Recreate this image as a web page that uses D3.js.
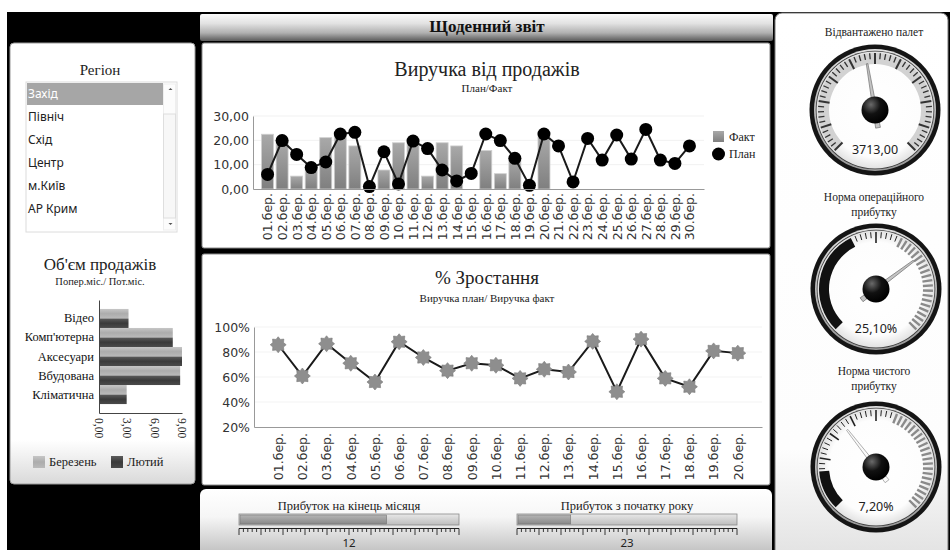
<!DOCTYPE html>
<html><head><meta charset="utf-8">
<script src="https://cdn.jsdelivr.net/npm/d3@7"></script>
<style>body{margin:0;background:#fff}svg{display:block}</style>
</head><body><svg id="c" width="950" height="550"></svg>
<script>
// ---------- DATA ----------
const regions = ["Захід","Північ","Схід","Центр","м.Київ","АР Крим"];
const salesDays = ["01.бер.","02.бер.","03.бер.","04.бер.","05.бер.","06.бер.","07.бер.","08.бер.","09.бер.","10.бер.","11.бер.","12.бер.","13.бер.","14.бер.","15.бер.","16.бер.","17.бер.","18.бер.","19.бер.","20.бер.","21.бер.","22.бер.","23.бер.","24.бер.","25.бер.","26.бер.","27.бер.","28.бер.","29.бер.","30.бер."];
const salesFact = [22.5,19.9,5.3,9.0,21.1,22.0,17.7,null,7.8,19.0,19.5,5.3,19.0,17.7,null,15.8,6.3,12.6,null,21.5,null,null,null,null,null,null,null,null,null,null];
const salesPlan = [6.0,19.9,14.2,8.8,11.1,22.6,23.3,1.0,15.3,2.1,19.7,16.6,7.8,3.3,6.4,22.6,19.9,12.6,1.5,22.6,17.7,2.9,20.8,11.9,22.2,12.3,24.5,11.9,10.5,17.7];
const salesTicks = [0,10,20,30];
const growthDays = salesDays.slice(0,20);
const growthValues = [85.8,60.8,86.6,71.0,56.0,88.2,75.6,65.1,71.0,69.4,58.9,66.2,64.0,88.5,48.2,90.3,58.9,52.2,80.9,79.1];
const growthTicks = [20,40,60,80,100];
const volumeCats = ["Відео","Комп'ютерна","Аксесуари","Вбудована","Кліматична"];
const volumeMarch = [3.2,8.0,9.0,8.8,3.0];
const volumeFeb = [3.2,8.0,9.0,8.8,3.0];
const volumeTicks = [0,3,6,9];
const volumeSeries = ["Березень","Лютий"];
const gaugeTitles = [["Відвантажено палет"],["Норма операційного","прибутку"],["Норма чистого","прибутку"]];
const gaugeValues = [3713, 25.1, 7.2];
const gaugeLabels = ["3713,00","25,10%","7,20%"];
const gaugeMax = [8000, 36, 20];
const gaugeBlackEnd = [0, 14.5, 3.0];
const gaugeGrayStart = [null, 21.3, 11.5];
const sliderTitles = ["Прибуток на кінець місяця","Прибуток з початку року"];
const sliderValues = [12, 23];
const sliderMax = [18, 96];

// ---------- HELPERS ----------
const svg = d3.select('#c');
const defs = svg.append('defs');
function lg(id, stops, x2=0, y2=1){
  const g = defs.append('linearGradient').attr('id',id).attr('x1',0).attr('y1',0).attr('x2',x2).attr('y2',y2);
  stops.forEach(([o,c])=>g.append('stop').attr('offset',o).attr('stop-color',c));
}
function rg(id, stops, cx='50%', cy='50%', r='50%'){
  const g = defs.append('radialGradient').attr('id',id).attr('cx',cx).attr('cy',cy).attr('r',r);
  stops.forEach(([o,c])=>g.append('stop').attr('offset',o).attr('stop-color',c));
}
lg('hdr',[[0,'#fbfbfb'],[0.35,'#e2e2e2'],[0.7,'#b0b0b0'],[1,'#5a5a5a']]);
lg('leftBg',[[0,'#ffffff'],[0.9,'#ffffff'],[1,'#d9d9d9']]);
lg('rightBg',[[0,'#ffffff'],[0.8,'#fdfdfd'],[1,'#e2e2e2']]);
lg('botBg',[[0,'#ffffff'],[0.4,'#f6f6f6'],[1,'#b8b8b8']]);
lg('factBar',[[0,'#a9a9a9'],[1,'#7f7f7f']]);
lg('lightBar',[[0,'#c6c6c6'],[0.5,'#acacac'],[1,'#bababa']]);
lg('darkBar',[[0,'#5c5c5c'],[0.5,'#3a3a3a'],[1,'#4a4a4a']]);
lg('track',[[0,'#e8e8e8'],[1,'#bdbdbd']]);
lg('trackFill',[[0,'#b5b5b5'],[1,'#888']]);
lg('ring',[[0,'#e0e0e0'],[1,'#9a9a9a']]);
rg('face',[[0,'#ffffff'],[0.8,'#fdfdfd'],[1,'#e2e2e2']]);
rg('hub',[[0,'#6a6a6a'],[0.5,'#111'],[1,'#000']],'35%','30%','70%');

const serif = "'Liberation Serif', 'DejaVu Serif', serif";
const sans = "'DejaVu Sans', sans-serif";
const ui = "'Noto Sans', 'Open Sans', sans-serif";
const fmt2 = d3.formatLocale({decimal:",",thousands:" ",grouping:[3],currency:["",""]}).format(".2f");

// ---------- BACKGROUND ----------
svg.append('rect').attr('x',0).attr('y',0).attr('width',950).attr('height',550).attr('fill','#fff');
svg.append('rect').attr('x',7).attr('y',12).attr('width',943).attr('height',538).attr('fill','#000');

// header
svg.append('rect').attr('x',200).attr('y',14).attr('width',573).attr('height',27).attr('rx',2).attr('fill','url(#hdr)');
svg.append('text').attr('x',487).attr('y',32).attr('text-anchor','middle').attr('font-family',serif)
  .attr('font-size',17).attr('font-weight','bold').attr('fill','#111').text('Щоденний звіт');

// panels
svg.append('rect').attr('x',10).attr('y',43).attr('width',185).attr('height',441).attr('rx',4).attr('fill','url(#leftBg)').attr('stroke','#9a9a9a');
svg.append('rect').attr('x',202).attr('y',43).attr('width',568).attr('height',205).attr('rx',2).attr('fill','#fff').attr('stroke','#8a8a8a');
svg.append('rect').attr('x',202).attr('y',254).attr('width',568).attr('height',231).attr('rx',2).attr('fill','#fff').attr('stroke','#8a8a8a');
svg.append('rect').attr('x',200).attr('y',489).attr('width',572).attr('height',70).attr('rx',6).attr('fill','url(#botBg)');
svg.append('rect').attr('x',775).attr('y',13).attr('width',173).attr('height',545).attr('rx',7).attr('fill','url(#rightBg)').attr('stroke','#777');

// ---------- REGION LISTBOX ----------
svg.append('text').attr('x',100).attr('y',75).attr('text-anchor','middle').attr('font-family',serif).attr('font-size',15).attr('fill','#222').text('Регіон');
svg.append('rect').attr('x',26).attr('y',82).attr('width',151).attr('height',150).attr('fill','#fff').attr('stroke','#dcdcdc');
svg.append('rect').attr('x',163.5).attr('y',84).attr('width',12).attr('height',146).attr('fill','#fcfcfc').attr('stroke','#eee');
svg.append('rect').attr('x',163.5).attr('y',114).attr('width',12).attr('height',104).attr('fill','#f7f7f7').attr('stroke','#dedede');
svg.append('path').attr('d','M168.5,90 l2,-2 l2,2 z').attr('fill','#555');
svg.append('path').attr('d','M168.5,223 l2,2 l2,-2 z').attr('fill','#555');
const yList = d3.scaleBand().domain(regions).range([83,220]);
svg.append('rect').attr('x',27).attr('y',83).attr('width',136).attr('height',22).attr('fill','#a6a6a6');
svg.append('g').selectAll('text').data(regions).join('text')
  .attr('x',28).attr('y',d=>yList(d)+yList.bandwidth()/2+4)
  .attr('font-family',ui).attr('font-size',12).attr('fill',(d,i)=>i===0?'#fff':'#222').text(d=>d);

// ---------- VOLUME BAR CHART ----------
svg.append('text').attr('x',100).attr('y',270).attr('text-anchor','middle').attr('font-family',serif).attr('font-size',17).attr('fill','#222').text("Об'єм продажів");
svg.append('text').attr('x',100).attr('y',285).attr('text-anchor','middle').attr('font-family',serif).attr('font-size',10.5).attr('fill','#222').text('Попер.міс./ Пот.міс.');
const yB = d3.scaleBand().domain(volumeCats).range([300,413]).paddingInner(0).paddingOuter(0.47);
const xB = d3.scaleLinear().domain([0,9]).range([99,182]);
const gB = svg.append('g');
gB.selectAll('rect.l').data(volumeCats).join('rect').attr('class','l')
  .attr('x',xB(0)).attr('y',d=>yB(d)).attr('height',yB.bandwidth()/2)
  .attr('width',(d,i)=>xB(volumeMarch[i])-xB(0)).attr('fill','url(#lightBar)');
gB.selectAll('rect.d').data(volumeCats).join('rect').attr('class','d')
  .attr('x',xB(0)).attr('y',d=>yB(d)+yB.bandwidth()/2).attr('height',yB.bandwidth()/2)
  .attr('width',(d,i)=>xB(volumeFeb[i])-xB(0)).attr('fill','url(#darkBar)');
const axB = svg.append('g').attr('transform','translate(99,0)').call(d3.axisLeft(yB).tickSize(0).tickPadding(5));
axB.select('.domain').attr('stroke','#444');
axB.selectAll('text').attr('font-family',serif).attr('font-size',12.5).attr('fill','#111');
const axBx = svg.append('g').attr('transform','translate(0,413)').call(d3.axisBottom(xB).tickValues(volumeTicks).tickFormat(fmt2).tickSize(0));
axBx.select('.domain').attr('stroke','#444');
axBx.selectAll('text').attr('font-family',serif).attr('font-size',11.5).attr('fill','#222')
  .attr('transform','rotate(90)').attr('text-anchor','start').attr('x',5).attr('y',0).attr('dy','0.35em');
const legB = svg.append('g');
legB.selectAll('rect').data(volumeSeries).join('rect').attr('x',(d,i)=>i?111:33).attr('y',456).attr('width',12).attr('height',12)
  .attr('fill',(d,i)=>i?'url(#darkBar)':'url(#lightBar)');
legB.selectAll('text').data(volumeSeries).join('text').attr('x',(d,i)=>i?127:49).attr('y',466)
  .attr('font-family',serif).attr('font-size',12.5).attr('fill','#222').text(d=>d);

// ---------- SALES CHART ----------
svg.append('text').attr('x',487).attr('y',76).attr('text-anchor','middle').attr('font-family',serif).attr('font-size',20).attr('fill','#222').text('Виручка від продажів');
svg.append('text').attr('x',487).attr('y',92).attr('text-anchor','middle').attr('font-family',serif).attr('font-size',11).attr('fill','#222').text('План/Факт');
const xS = d3.scalePoint().domain(salesDays).range([253,704]).padding(1);
const yS = d3.scaleLinear().domain([0,30]).range([189,116]);
const gS = svg.append('g');
gS.selectAll('line.grid').data(salesTicks.slice(1)).join('line').attr('class','grid')
  .attr('x1',253).attr('x2',704).attr('y1',d=>yS(d)).attr('y2',d=>yS(d)).attr('stroke','#f1f1f1');
gS.selectAll('rect').data(salesDays.map((d,i)=>({d,v:salesFact[i]})).filter(o=>o.v!=null)).join('rect')
  .attr('x',o=>xS(o.d)-6).attr('width',12).attr('y',o=>yS(o.v)).attr('height',o=>yS(0)-yS(o.v))
  .attr('fill','url(#factBar)').attr('stroke','#cfcfcf').attr('stroke-width',0.8);
gS.append('path').datum(salesPlan).attr('fill','none').attr('stroke','#1a1a1a').attr('stroke-width',2)
  .attr('d',d3.line().x((v,i)=>xS(salesDays[i])).y(v=>yS(v)));
gS.selectAll('circle').data(salesPlan).join('circle').attr('cx',(v,i)=>xS(salesDays[i])).attr('cy',v=>yS(v)).attr('r',6.5).attr('fill','#000');
const axSy = svg.append('g').attr('transform','translate(253,0)').call(d3.axisLeft(yS).tickValues(salesTicks).tickFormat(fmt2).tickSize(0).tickPadding(4));
axSy.select('.domain').attr('stroke','#999');
axSy.selectAll('text').attr('font-family',sans).attr('font-size',12.5).attr('fill','#333');
const axSx = svg.append('g').attr('transform','translate(0,189)').call(d3.axisBottom(xS).tickSize(0));
axSx.select('.domain').attr('stroke','#999');
axSx.selectAll('text').attr('font-family',sans).attr('font-size',12.5).attr('fill','#333')
  .attr('transform','rotate(-90)').attr('text-anchor','end').attr('x',-4).attr('y',0).attr('dy','0.35em');
svg.append('rect').attr('x',713).attr('y',131).attr('width',11).attr('height',11).attr('fill','url(#factBar)');
svg.append('text').attr('x',729).attr('y',141).attr('font-family',serif).attr('font-size',12).attr('fill','#222').text('Факт');
svg.append('circle').attr('cx',718.5).attr('cy',154).attr('r',6.5).attr('fill','#000');
svg.append('text').attr('x',729).attr('y',158).attr('font-family',serif).attr('font-size',12).attr('fill','#222').text('План');

// ---------- GROWTH CHART ----------
svg.append('text').attr('x',487).attr('y',284).attr('text-anchor','middle').attr('font-family',serif).attr('font-size',19).attr('fill','#222').text('% Зростання');
svg.append('text').attr('x',487).attr('y',302).attr('text-anchor','middle').attr('font-family',serif).attr('font-size',11).attr('fill','#222').text('Виручка план/ Виручка факт');
const xG = d3.scalePoint().domain(growthDays).range([254,762]).padding(1);
const yG = d3.scaleLinear().domain([20,100]).range([427,327]);
const gG = svg.append('g');
gG.selectAll('line.grid').data(growthTicks.slice(1)).join('line').attr('class','grid')
  .attr('x1',254).attr('x2',762).attr('y1',d=>yG(d)).attr('y2',d=>yG(d)).attr('stroke','#f3f3f3');
gG.append('path').datum(growthValues).attr('fill','none').attr('stroke','#1a1a1a').attr('stroke-width',2)
  .attr('d',d3.line().x((v,i)=>xG(growthDays[i])).y(v=>yG(v)));
const star8 = {draw(ctx,size){const R=Math.sqrt(size)/2, r=R*0.72; for(let k=0;k<16;k++){const a=k*Math.PI/8, rr=k%2?r:R; const x=rr*Math.sin(a), y=-rr*Math.cos(a); k?ctx.lineTo(x,y):ctx.moveTo(x,y);} ctx.closePath();}};
gG.selectAll('path.m').data(growthValues).join('path').attr('class','m')
  .attr('transform',(v,i)=>`translate(${xG(growthDays[i])},${yG(v)})`)
  .attr('d',d3.symbol().type(star8).size(256)).attr('fill','#8e8e8e').attr('stroke','#7a7a7a').attr('stroke-width',0.6);
const axGy = svg.append('g').attr('transform','translate(254,0)').call(d3.axisLeft(yG).tickValues(growthTicks).tickFormat(d=>d+'%').tickSize(0).tickPadding(4));
axGy.select('.domain').attr('stroke','#999');
axGy.selectAll('text').attr('font-family',sans).attr('font-size',12.5).attr('fill','#333');
const axGx = svg.append('g').attr('transform','translate(0,427)').call(d3.axisBottom(xG).tickSize(0));
axGx.select('.domain').attr('stroke','#999');
axGx.selectAll('text').attr('font-family',sans).attr('font-size',12.5).attr('fill','#333')
  .attr('transform','rotate(-90)').attr('text-anchor','end').attr('x',-6).attr('y',0).attr('dy','0.35em');

// ---------- GAUGES ----------
const gaugeCenters = [[875,110],[876,289],[876,467]];
const titleY = [[36],[201,216],[375,390]];
function pt(r,a){const t=a*Math.PI/180;return [r*Math.sin(t),-r*Math.cos(t)];}
gaugeValues.forEach((val,gi)=>{
  titleY[gi].forEach((y,li)=>svg.append('text').attr('x',874).attr('y',y).attr('text-anchor','middle')
    .attr('font-family',serif).attr('font-size',11.5).attr('fill','#222').text(gaugeTitles[gi][li]));
  const ang = d3.scaleLinear().domain([0,gaugeMax[gi]]).range([-135,135]);
  const g = svg.append('g').attr('transform',`translate(${gaugeCenters[gi][0]},${gaugeCenters[gi][1]})`);
  g.append('circle').attr('r',65.5).attr('fill','#151515');
  g.append('circle').attr('r',61).attr('fill','url(#ring)');
  g.append('circle').attr('r',59.3).attr('fill','#3a3a3a');
  g.append('circle').attr('r',58.5).attr('fill','url(#face)');
  const rad = a=>a*Math.PI/180;
  if(gi===0){
    g.append('path').attr('d',d3.arc().innerRadius(46).outerRadius(57).startAngle(rad(-135)).endAngle(rad(135))()).attr('fill','#d2d2d2');
  } else {
    g.append('path').attr('d',d3.arc().innerRadius(47).outerRadius(57).startAngle(rad(-135)).endAngle(rad(ang(gaugeBlackEnd[gi])))()).attr('fill','#111');
  }
  const nT = 50;
  const tickVals = d3.range(nT+1).map(k=>k*gaugeMax[gi]/nT);
  g.selectAll('line.t').data(tickVals).join('line').attr('class','t')
    .each(function(v,k){
      const a = ang(v); const major = k%5===0;
      let r0 = major?46:51, r1 = 57, col='#333', w= major?2:1.3;
      if(gi>0){
        if(v<gaugeBlackEnd[gi]) {col='none';}
        else if(v>=gaugeGrayStart[gi]) {col='#8a8a8a'; w=2.4; r0=47;}
        else {col='#222'; w = major?1.6:1;}
      }
      const p0=pt(r0,a), p1=pt(r1,a);
      d3.select(this).attr('x1',p0[0]).attr('y1',p0[1]).attr('x2',p1[0]).attr('y2',p1[1]).attr('stroke',col).attr('stroke-width',w);
    });
  g.append('text').attr('x',0).attr('y',44).attr('text-anchor','middle').attr('font-family',ui).attr('font-size',12.5).attr('fill','#222').text(gaugeLabels[gi]);
  const a = ang(val);
  g.append('path').attr('d','M-0.8,-47 L0.8,-47 L2.4,18 L-2.4,18 Z').attr('transform',`rotate(${a})`)
    .attr('fill',gi===2?'#fafafa':'#c4c4c4').attr('stroke',gi===2?'#999':'#777').attr('stroke-width',0.7);
  g.append('circle').attr('r',13.5).attr('fill','url(#hub)');
});

// ---------- SLIDERS ----------
const sliderX = [239,517];
sliderValues.forEach((v,si)=>{
  const x0 = sliderX[si], w = 220;
  const sx = d3.scaleLinear().domain([0,sliderMax[si]]).range([x0,x0+w]);
  svg.append('text').attr('x',x0+110).attr('y',510).attr('text-anchor','middle').attr('font-family',serif).attr('font-size',12.5).attr('fill','#222').text(sliderTitles[si]);
  svg.append('rect').attr('x',x0).attr('y',514).attr('width',w).attr('height',11).attr('fill','url(#track)').attr('stroke','#8a8a8a').attr('stroke-width',0.8);
  svg.append('rect').attr('x',x0+1).attr('y',515).attr('width',sx(v)-x0).attr('height',9).attr('fill','url(#trackFill)').attr('stroke','#777').attr('stroke-width',0.6);
  svg.append('line').attr('x1',x0).attr('x2',x0+w).attr('y1',528.5).attr('y2',528.5).attr('stroke','#222');
  svg.append('g').selectAll('line').data(d3.range(51)).join('line')
    .attr('x1',k=>x0+k*w/50).attr('x2',k=>x0+k*w/50).attr('y1',528.5).attr('y2',k=>k%5===0?535:532).attr('stroke','#222').attr('stroke-width',0.9);
  svg.append('text').attr('x',x0+110).attr('y',547).attr('text-anchor','middle').attr('font-family',ui).attr('font-size',11.5).attr('fill','#222').text(v);
});
</script></body></html>
